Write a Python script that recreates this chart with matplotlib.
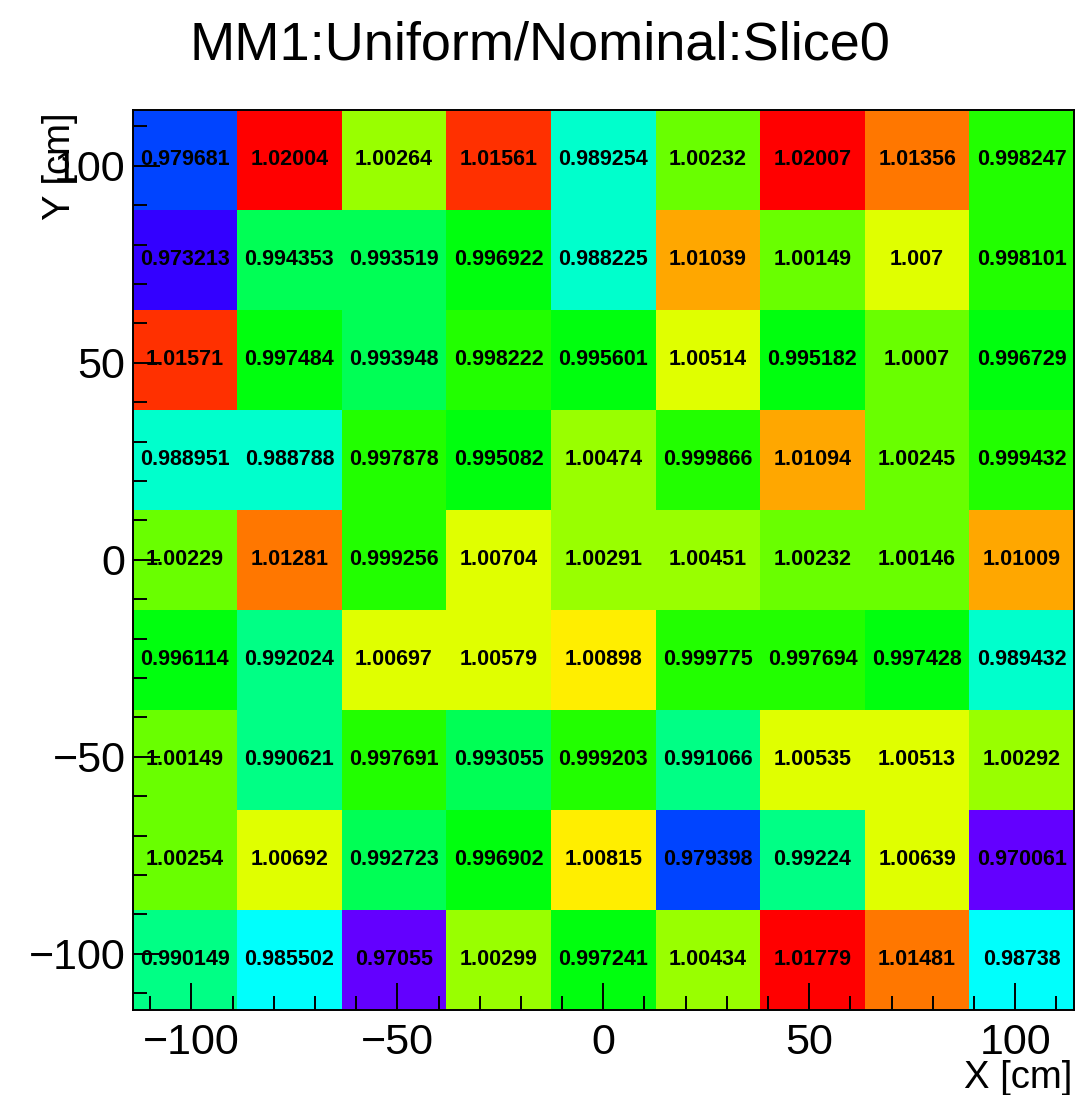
import colorsys
import numpy as np
import matplotlib
matplotlib.use("Agg")
import matplotlib.pyplot as plt
from matplotlib.colors import ListedColormap, BoundaryNorm
from matplotlib.ticker import MultipleLocator

# bin contents, rows from top (y = +100) to bottom (y = -100)
row1 = [0.979681, 1.02004, 1.00264, 1.01561, 0.989254, 1.00232, 1.02007, 1.01356, 0.998247]
row2 = [0.973213, 0.994353, 0.993519, 0.996922, 0.988225, 1.01039, 1.00149, 1.007, 0.998101]
row3 = [1.01571, 0.997484, 0.993948, 0.998222, 0.995601, 1.00514, 0.995182, 1.0007, 0.996729]
row4 = [0.988951, 0.988788, 0.997878, 0.995082, 1.00474, 0.999866, 1.01094, 1.00245, 0.999432]
row5 = [1.00229, 1.01281, 0.999256, 1.00704, 1.00291, 1.00451, 1.00232, 1.00146, 1.01009]
row6 = [0.996114, 0.992024, 1.00697, 1.00579, 1.00898, 0.999775, 0.997694, 0.997428, 0.989432]
row7 = [1.00149, 0.990621, 0.997691, 0.993055, 0.999203, 0.991066, 1.00535, 1.00513, 1.00292]
row8 = [1.00254, 1.00692, 0.992723, 0.996902, 1.00815, 0.979398, 0.99224, 1.00639, 0.970061]
row9 = [0.990149, 0.985502, 0.97055, 1.00299, 0.997241, 1.00434, 1.01779, 1.01481, 0.98738]

x_edges = np.linspace(-114.3, 114.3, 10)
y_edges = np.linspace(-114.3, 114.3, 10)

title = "MM1:Uniform/Nominal:Slice0"

z = np.array([row1, row2, row3, row4, row5, row6, row7, row8, row9])[::-1]

# pretty palette violet -> red, 50 colours, 20 contour levels
pal = []
for i in range(49):
    hue = 280 - (i + 1) * (280 / 50)
    pal.append(colorsys.hls_to_rgb(hue / 360, 0.5, 1.0))
pal.append((1.0, 0.0, 0.0))
ncont = 20
cols = [pal[int((k + 0.99) * 50 / ncont)] for k in range(ncont)]
cmap = ListedColormap(cols)
norm = BoundaryNorm(np.linspace(z.min(), z.max(), ncont + 1), ncont, clip=True)

plt.rcParams['font.family'] = ['Liberation Sans', 'DejaVu Sans']

fig = plt.figure(figsize=(10.79, 10.95), dpi=100)
ax = fig.add_axes([0.1228, 0.0776, 0.8726, 0.8224])
ax.pcolormesh(x_edges, y_edges, z, cmap=cmap, norm=norm)

xc = 0.5 * (x_edges[:-1] + x_edges[1:])
yc = 0.5 * (y_edges[:-1] + y_edges[1:])
for j in range(len(yc)):
    for i in range(len(xc)):
        ax.text(xc[i], yc[j], f"{z[j, i]:g}", ha='center', va='center',
                fontsize=15.5, fontweight='bold', color='black')

ax.set_xlim(x_edges[0], x_edges[-1])
ax.set_ylim(y_edges[0], y_edges[-1])
ax.xaxis.set_major_locator(MultipleLocator(50))
ax.xaxis.set_minor_locator(MultipleLocator(10))
ax.yaxis.set_major_locator(MultipleLocator(50))
ax.yaxis.set_minor_locator(MultipleLocator(10))
ax.tick_params(which='both', direction='in', top=False, right=False, width=1.4, color='black')
ax.tick_params(which='major', length=19.4, labelsize=31)
ax.tick_params(which='minor', length=10)
ax.tick_params(axis='x', which='major', pad=9)
ax.tick_params(axis='y', which='major', pad=5)
for s in ax.spines.values():
    s.set_linewidth(1.4)

fig.text(0.5, 1 - 59 / 1095, title, ha='center', va='baseline', fontsize=39)
fig.text(60 / 1079, 1 - 112 / 1095, "Y [cm]", rotation=90, ha='center', va='top', fontsize=27.5)
fig.text(1072 / 1079, 1 - 1088 / 1095, "X [cm]", ha='right', va='baseline', fontsize=27.5)

fig.savefig("out.png", dpi=100)
